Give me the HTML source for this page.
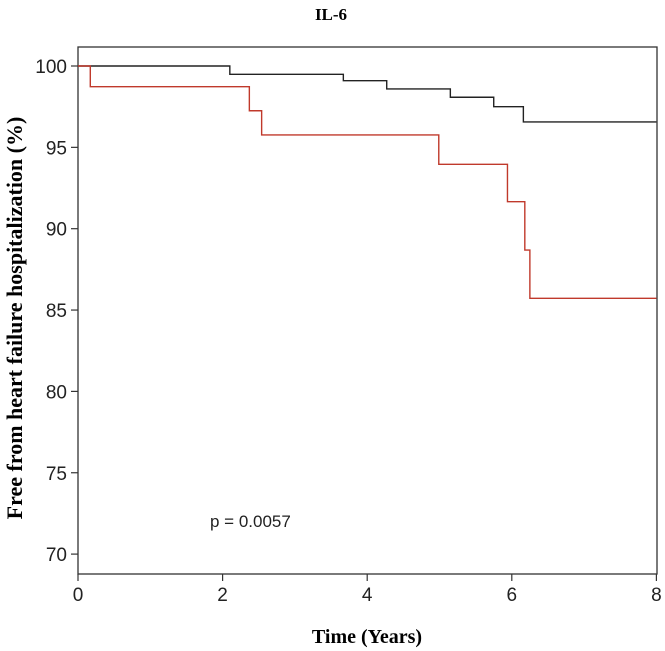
<!DOCTYPE html>
<html><head><meta charset="utf-8"><style>
html,body{margin:0;padding:0;background:#fff;}
svg{display:block;}
</style></head><body>
<svg id="chart" width="665" height="651" xmlns="http://www.w3.org/2000/svg">
<text x="331" y="20" text-anchor="middle" font-family="Liberation Serif, serif" font-weight="bold" font-size="17">IL-6</text>
<text transform="translate(22,318) rotate(-90)" text-anchor="middle" font-family="Liberation Serif, serif" font-weight="bold" font-size="22">Free from heart failure hospitalization  (%)</text>
<text x="367" y="643" text-anchor="middle" font-family="Liberation Serif, serif" font-weight="bold" font-size="20">Time (Years)</text>
<rect x="78" y="47" width="579" height="527" fill="none" stroke="#333" stroke-width="1.3"/>
<text x="210" y="527" font-family="Liberation Sans, sans-serif" font-size="17" fill="#222">p = 0.0057</text>
<g id="axes"></g>
<g id="series"></g>
</svg>
<script>
const xTicks = [0, 2, 4, 6, 8];
const yTicks = [70, 75, 80, 85, 90, 95, 100];
const blackTimes = [0, 2.1, 3.67, 4.27, 5.15, 5.75, 6.16, 8];
const blackSurv = [100, 99.49, 99.1, 98.59, 98.08, 97.5, 96.56, 96.56];
const redTimes = [0, 0.17, 2.37, 2.54, 4.99, 5.94, 6.18, 6.25, 8];
const redSurv = [100, 98.73, 97.25, 95.76, 93.96, 91.66, 88.69, 85.72, 85.72];

const NS = 'http://www.w3.org/2000/svg';
const X = t => 78 + t * 72.3;
const Y = v => 66 + (100 - v) * 16.27;
const axes = document.getElementById('axes');
const series = document.getElementById('series');
function mk(tag, attrs, parent){const e=document.createElementNS(NS,tag);for(const k in attrs)e.setAttribute(k,attrs[k]);parent.appendChild(e);return e;}

xTicks.forEach(t=>{
  const l=mk('line',{x1:X(t),x2:X(t),y1:574,y2:581,stroke:'#333','stroke-width':1.2},axes);
  
  
  const tx=mk('text',{x:X(t),y:601,'text-anchor':'middle','font-family':'Liberation Sans, sans-serif','font-size':19,fill:'#222'},axes);
  tx.textContent=t;
  
  
});
yTicks.forEach(v=>{
  const l=mk('line',{x1:71,x2:78,y1:Y(v),y2:Y(v),stroke:'#333','stroke-width':1.2},axes);
  
  
  const tx=mk('text',{x:67,y:Y(v)+7,'text-anchor':'end','font-family':'Liberation Sans, sans-serif','font-size':19,fill:'#222'},axes);
  tx.textContent=v;
  
  
});
function step(times, surv, color, name){
  let d='M'+X(times[0])+','+Y(surv[0]);
  for(let i=1;i<times.length;i++){d+=' H'+X(times[i])+' V'+Y(surv[i]);}
  const p=mk('path',{d:d,fill:'none',stroke:color,'stroke-width':1.4},series);
  
  
}
step(blackTimes, blackSurv, '#222', 'low-il6-curve');
step(redTimes, redSurv, '#c0392b', 'high-il6-curve');
</script>
</body></html>
